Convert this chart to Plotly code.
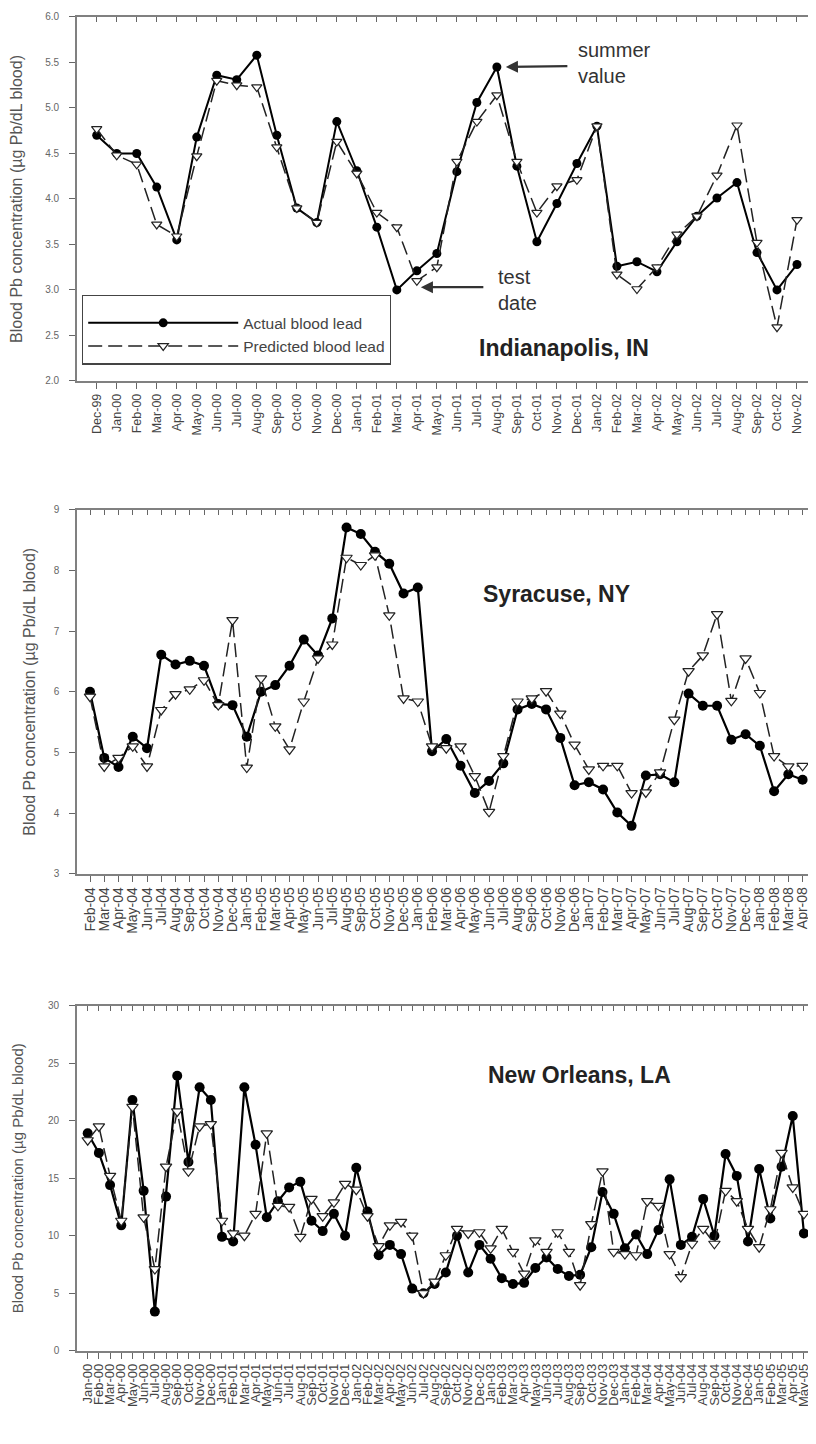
import plotly.graph_objects as go
import pandas as pd

# ---------------- data ----------------
indy_labels = [d.strftime("%b-%y") for d in pd.date_range("1999-12-01", "2002-11-01", freq="MS")]
indy_actual = [4.70, 4.50, 4.50, 4.13, 3.55, 4.68, 5.36, 5.31, 5.58, 4.70, 3.90, 3.74,
               4.85, 4.31, 3.69, 3.00, 3.21, 3.40, 4.30, 5.06, 5.45, 4.36, 3.53, 3.95,
               4.39, 4.80, 3.26, 3.31, 3.20, 3.53, 3.81, 4.01, 4.18, 3.41, 3.00, 3.28]
indy_pred = [4.77, 4.48, 4.38, 3.72, 3.59, 4.47, 5.30, 5.25, 5.23, 4.57, 3.90, 3.74,
             4.63, 4.28, 3.85, 3.69, 3.10, 3.25, 4.41, 4.85, 5.14, 4.41, 3.85, 4.14,
             4.21, 4.80, 3.17, 3.01, 3.25, 3.61, 3.81, 4.26, 4.81, 3.52, 2.59, 3.77]

syr_labels = [d.strftime("%b-%y") for d in pd.date_range("2004-02-01", "2008-04-01", freq="MS")]
syr_actual = [6.00, 4.91, 4.76, 5.26, 5.07, 6.61, 6.45, 6.51, 6.43, 5.80,
              5.78, 5.26, 6.00, 6.11, 6.43, 6.86, 6.60, 7.21, 8.71, 8.60,
              8.31, 8.11, 7.62, 7.72, 5.02, 5.22, 4.78, 4.33, 4.53, 4.82,
              5.71, 5.80, 5.71, 5.24, 4.46, 4.51, 4.39, 4.01, 3.79, 4.62,
              4.64, 4.51, 5.97, 5.77, 5.77, 5.21, 5.30, 5.11, 4.36, 4.64, 4.55]
syr_pred = [5.92, 4.77, 4.91, 5.10, 4.77, 5.70, 5.96, 6.04, 6.19, 5.78,
            7.18, 4.75, 6.22, 5.43, 5.05, 5.84, 6.55, 6.78, 8.21, 8.09,
            8.25, 7.26, 5.89, 5.84, 5.10, 5.07, 5.10, 4.61, 4.02, 4.94,
            5.84, 5.89, 6.01, 5.64, 5.13, 4.72, 4.78, 4.78, 4.33, 4.34,
            4.67, 5.54, 6.34, 6.60, 7.28, 5.85, 6.55, 5.98, 4.94, 4.77, 4.78]

no_labels = [d.strftime("%b-%y") for d in pd.date_range("2000-01-01", "2005-05-01", freq="MS")]
no_actual = [18.9, 17.2, 14.4, 10.9, 21.8, 13.9, 3.4, 13.4, 23.9, 16.4,
             22.9, 21.8, 9.9, 9.5, 22.9, 17.9, 11.6, 13.0, 14.2, 14.7,
             11.3, 10.4, 11.9, 10.0, 15.9, 12.1, 8.3, 9.2, 8.4, 5.4,
             5.0, 5.8, 6.8, 10.0, 6.8, 9.2, 8.0, 6.3, 5.8, 5.9,
             7.2, 8.1, 7.1, 6.5, 6.6, 9.0, 13.8, 11.9, 8.9, 10.1,
             8.4, 10.5, 14.9, 9.2, 9.9, 13.2, 10.0, 17.1, 15.2, 9.5,
             15.8, 11.5, 16.0, 20.4, 10.2]
no_pred = [18.3, 19.5, 15.2, 11.3, 21.2, 11.6, 7.1, 16.0, 20.8, 15.6,
           19.5, 19.7, 11.3, 10.2, 10.0, 11.9, 18.9, 12.6, 12.5, 9.9,
           13.2, 11.7, 12.9, 14.5, 14.0, 11.7, 9.1, 10.9, 11.2, 10.0,
           5.0, 6.0, 8.3, 10.6, 10.2, 10.3, 8.9, 10.6, 8.6, 6.7,
           9.6, 8.6, 10.3, 8.6, 5.7, 11.0, 15.6, 8.6, 8.4, 8.3,
           13.0, 12.6, 8.4, 6.4, 9.3, 10.6, 9.3, 13.9, 13.0, 10.6,
           9.0, 12.3, 17.2, 14.2, 11.9]

panel_titles = ["Indianapolis, IN", "Syracuse, NY", "New Orleans, LA"]
ytitle = "Blood Pb concentration (µg Pb/dL blood)"

# ---------------- layout geometry (window pixels) ----------------
OFF = 8                      # default page margin of the html body
W, H = 816 - OFF, 1444 - OFF
FONT = "Liberation Sans, Arial, sans-serif"


def px(xp):
    return (xp - OFF) / W


def py(yp):
    return 1 - (yp - OFF) / H


panels = [
    dict(lab=indy_labels, act=indy_actual, pre=indy_pred, box=(77, 813, 11, 378),
         xr=[-0.985, 35.8], yr=[2, 6], dt=0.5, fmt=".1f", msz=9, lw=2.0, xfs=12.5,
         ytx=17, yfs=16, title_xy=(564, 345)),
    dict(lab=syr_labels, act=syr_actual, pre=syr_pred, box=(77, 814, 508, 875),
         xr=[-0.912, 50.8], yr=[3, 9], dt=1, fmt="d", msz=10, lw=2.2, xfs=14,
         ytx=30, yfs=16, title_xy=(556, 593)),
    dict(lab=no_labels, act=no_actual, pre=no_pred, box=(77, 814, 1008, 1356),
         xr=[-0.956, 64.9], yr=[0, 30], dt=5, fmt="d", msz=10, lw=2.2, xfs=13,
         ytx=17, yfs=15, title_xy=(579, 1078)),
]

fig = go.Figure()
annotations = []
for i, p in enumerate(panels):
    n = i + 1
    xs = "" if n == 1 else str(n)
    xtop = str(n + 3)
    x = list(range(len(p["lab"])))
    fig.add_trace(go.Scatter(
        x=x, y=p["act"], mode="lines+markers", name="Actual blood lead",
        line=dict(color="black", width=p["lw"]),
        marker=dict(symbol="circle", size=p["msz"], color="black"),
        xaxis="x" + xs, yaxis="y" + xs, showlegend=(n == 1)))
    fig.add_trace(go.Scatter(
        x=x, y=p["pre"], mode="lines+markers", name="Predicted blood lead",
        line=dict(color="#222", width=1.5, dash="14px,6px"),
        marker=dict(symbol="triangle-down", size=p["msz"], color="white",
                    line=dict(color="#222", width=1.2)),
        xaxis="x" + xs, yaxis="y" + xs, showlegend=(n == 1)))
    # invisible trace so the top tick axis is drawn
    fig.add_trace(go.Scatter(x=[], y=[], xaxis="x" + xtop, yaxis="y" + xs,
                             showlegend=False, hoverinfo="skip"))
    x0, x1, y0, y1 = p["box"]
    fig.update_layout(**{
        "xaxis" + xs: dict(domain=[px(x0), min(px(x1), 1.0)], anchor="y" + xs, range=p["xr"],
                           tickmode="array", tickvals=x, ticktext=p["lab"], tickangle=-90,
                           ticks="outside", ticklen=6, tickwidth=1.2, tickcolor="#666",
                           showline=True, linecolor="#808080", linewidth=1.6, mirror=True,
                           showgrid=False, zeroline=False,
                           tickfont=dict(family=FONT, size=p["xfs"], color="#444")),
        "xaxis" + xtop: dict(overlaying="x" + xs, side="top", anchor="y" + xs, range=p["xr"],
                             tickmode="array", tickvals=x, ticks="inside", ticklen=5,
                             tickwidth=1.2, tickcolor="#666", showticklabels=False,
                             showline=False, showgrid=False, zeroline=False),
        "yaxis" + xs: dict(domain=[py(y1), py(y0)], anchor="x" + xs, range=p["yr"],
                           dtick=p["dt"], tick0=p["yr"][0], tickformat=p["fmt"],
                           ticks="outside", ticklen=6, tickwidth=1.2, tickcolor="#666",
                           ticklabelstandoff=8,
                           showline=True, linecolor="#808080", linewidth=1.6, mirror=True,
                           showgrid=False, zeroline=False,
                           tickfont=dict(family=FONT, size=10, color="#666")),
    })
    annotations.append(dict(text=ytitle, textangle=-90, xref="paper", yref="paper",
                            x=px(p["ytx"]), y=py((y0 + y1) / 2), showarrow=False,
                            xanchor="center", yanchor="middle",
                            font=dict(family=FONT, size=p["yfs"], color="#555")))
    tx, ty = p["title_xy"]
    annotations.append(dict(text="<b>%s</b>" % panel_titles[i], xref="paper", yref="paper",
                            x=px(tx), y=py(ty), showarrow=False,
                            xanchor="center", yanchor="middle",
                            font=dict(family=FONT, size=23, color="#222")))

# arrows in the top panel (arrow only) + their labels
annotations.append(dict(text="", x=20, y=5.45, xref="x", yref="y",
                        showarrow=True, ax=72, ay=-1, axref="pixel", ayref="pixel",
                        standoff=9, arrowhead=2, arrowsize=1.1, arrowwidth=2.2,
                        arrowcolor="#333"))
annotations.append(dict(text="", x=16, y=3.03, xref="x", yref="y",
                        showarrow=True, ax=68, ay=0, axref="pixel", ayref="pixel",
                        standoff=4, arrowhead=2, arrowsize=1.1, arrowwidth=2.2,
                        arrowcolor="#333"))
annotations.append(dict(text="summer<br>value", xref="paper", yref="paper",
                        x=px(576), y=py(57), xanchor="left", yanchor="middle",
                        align="left", showarrow=False,
                        font=dict(family=FONT, size=20, color="#333")))
annotations.append(dict(text="test<br>date", xref="paper", yref="paper",
                        x=px(496), y=py(286), xanchor="left", yanchor="middle",
                        align="left", showarrow=False,
                        font=dict(family=FONT, size=20, color="#333")))

fig.update_layout(
    width=W, height=H, margin=dict(l=0, r=0, t=0, b=0),
    paper_bgcolor="white", plot_bgcolor="white",
    annotations=annotations,
    legend=dict(x=px(82), y=py(291), xanchor="left", yanchor="top",
                bgcolor="white", bordercolor="#444", borderwidth=1.2,
                itemwidth=150, font=dict(family=FONT, size=15.5, color="#444"),
                title=dict(text="&nbsp;", font=dict(size=8)),
                tracegroupgap=0),
    font=dict(family=FONT),
)

fig.write_html("out.html")
